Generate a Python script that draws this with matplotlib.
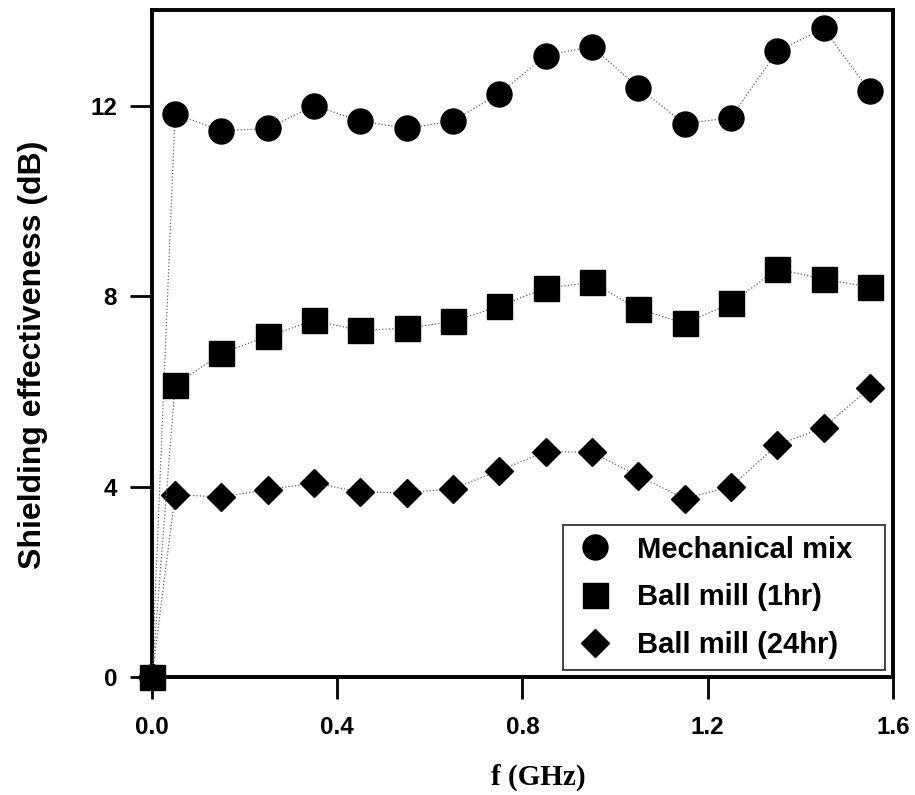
import matplotlib

matplotlib.use("Agg")
import matplotlib.pyplot as plt

# frequency points (GHz); origin point included for every series
freq = [0.0, 0.05, 0.15, 0.25, 0.35, 0.45, 0.55, 0.65, 0.75,
        0.85, 0.95, 1.05, 1.15, 1.25, 1.35, 1.45, 1.55]

mech_mix = [0.0, 11.83, 11.47, 11.52, 12.00, 11.68, 11.52, 11.68, 12.25,
            13.05, 13.24, 12.38, 11.62, 11.75, 13.14, 13.62, 12.30]
ball_1hr = [0.0, 6.13, 6.80, 7.16, 7.49, 7.28, 7.33, 7.47, 7.79,
            8.17, 8.29, 7.73, 7.43, 7.85, 8.57, 8.36, 8.19]
ball_24hr = [0.0, 3.83, 3.79, 3.94, 4.08, 3.89, 3.87, 3.96, 4.34,
             4.74, 4.72, 4.23, 3.75, 4.00, 4.88, 5.24, 6.08]

labels = ["Mechanical mix", "Ball mill (1hr)", "Ball mill (24hr)"]
xticks = [0.0, 0.4, 0.8, 1.2, 1.6]
yticks = [0, 4, 8, 12]

plt.rcParams["font.family"] = ["Liberation Sans", "DejaVu Sans"]

fig = plt.figure(figsize=(9.15, 7.95), dpi=100)
ax = fig.add_axes([0.166, 0.148, 0.81, 0.839])

line_kw = dict(linestyle=":", color="#666666", linewidth=0.9, markeredgecolor="black",
               markerfacecolor="black", clip_on=False)
ax.plot(freq, mech_mix, marker="o", markersize=18, label=labels[0], zorder=2, **line_kw)
ax.plot(freq, ball_1hr, marker="s", markersize=18, label=labels[1], zorder=4, **line_kw)
ax.plot(freq, ball_24hr, marker="D", markersize=14, label=labels[2], zorder=3, **line_kw)

ax.set_xlim(0, 1.6)
ax.set_ylim(0, 14)
ax.set_xticks(xticks)
ax.set_xticklabels([f"{t:.1f}" for t in xticks])
ax.set_yticks(yticks)

for side in ax.spines.values():
    side.set_linewidth(2.8)
ax.tick_params(direction="out", length=16, width=2, labelsize=17.5)
ax.tick_params(axis="x", pad=12)
ax.tick_params(axis="y", pad=9)
for lab in ax.get_xticklabels() + ax.get_yticklabels():
    lab.set_fontweight("bold")

ax.set_ylabel("Shielding effectiveness (dB)", fontsize=23, fontweight="bold")
ax.yaxis.set_label_coords(-0.14, 0.483)
ax.set_xlabel("f (GHz)", fontsize=21, fontweight="bold", family=["Liberation Serif"])
ax.xaxis.set_label_coords(0.521, -0.129)

leg = ax.legend(loc="lower left", bbox_to_anchor=(0.5547, 0.0105, 0.4345, 0.2),
                mode="expand", borderaxespad=0, frameon=True, fancybox=False,
                labelspacing=0.68, handlelength=1.44, handletextpad=0.72,
                borderpad=0.38, prop={"weight": "bold", "size": 21})
leg.get_frame().set_edgecolor("black")
leg.get_frame().set_linewidth(1.3)
for h in leg.get_lines():
    h.set_linestyle("none")

fig.savefig("out.png", dpi=100)
